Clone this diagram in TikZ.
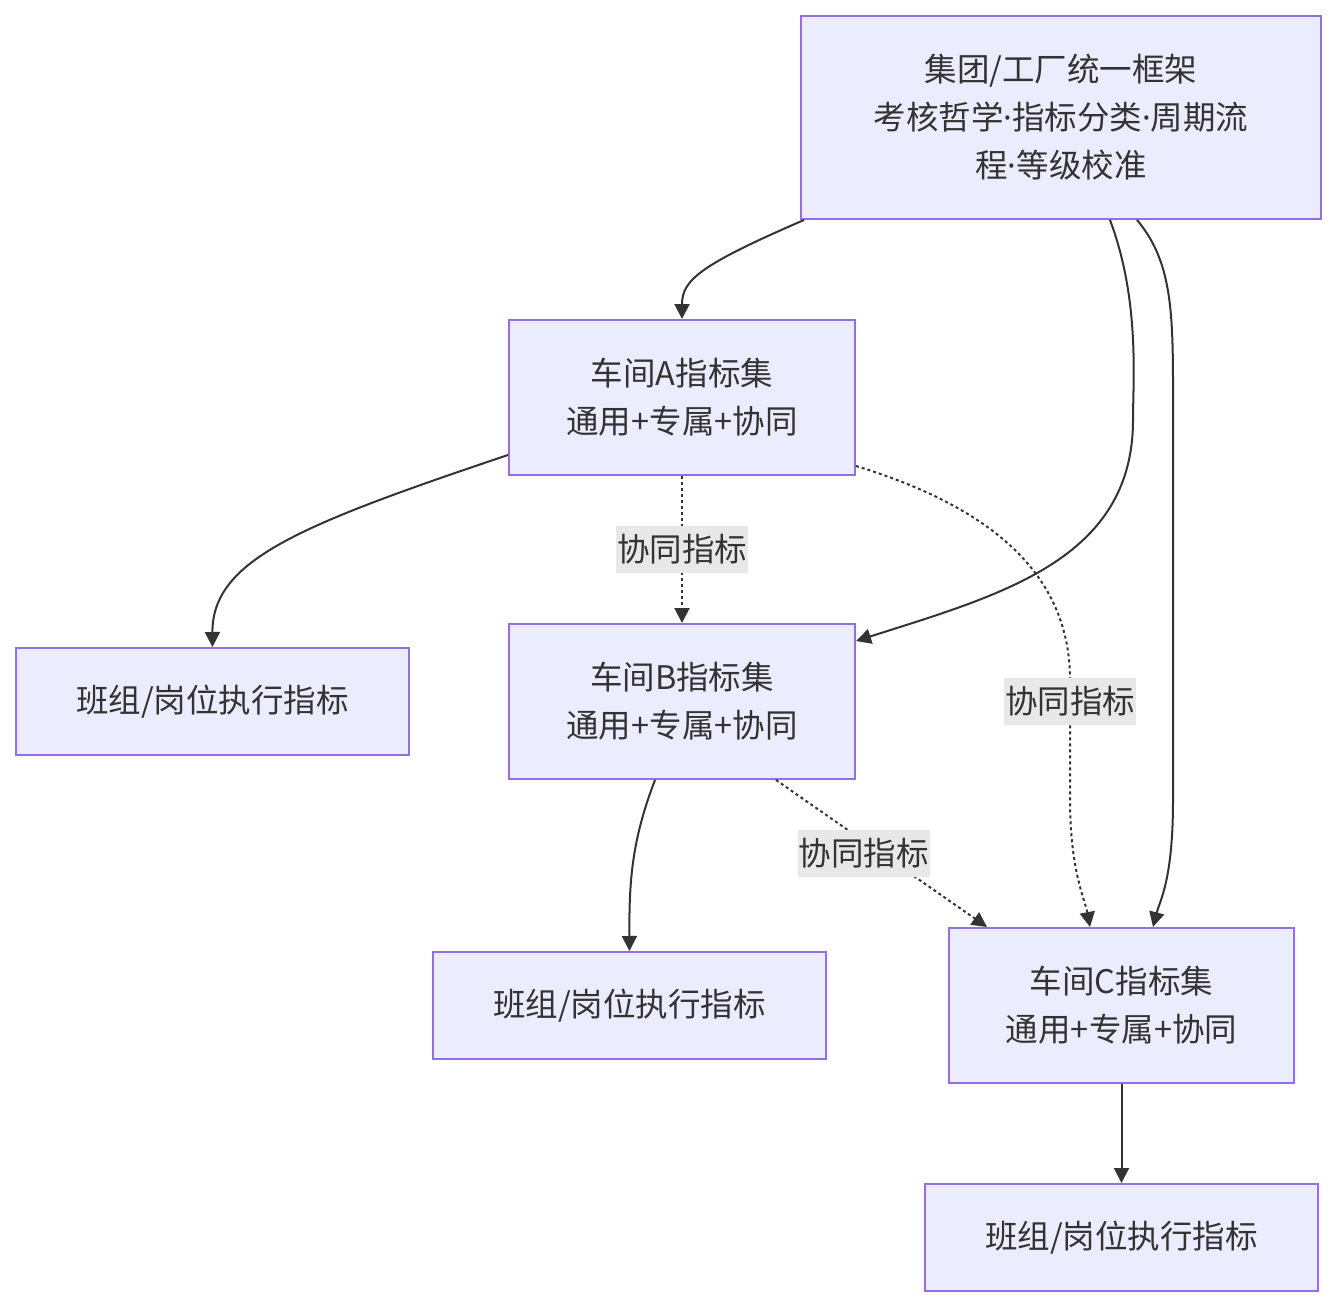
\documentclass[tikz,border=0pt]{standalone}
\usepackage{fontspec}
\setmainfont{Noto Sans CJK SC}
\newfontfamily\dotfont{Noto Sans}
\newcommand{\mdot}{{\dotfont ·}}
\usetikzlibrary{arrows.meta}

\definecolor{boxfill}{HTML}{ECECFF}
\definecolor{boxline}{HTML}{9370DB}
\definecolor{edgeline}{HTML}{333333}
\definecolor{lblfill}{HTML}{E8E8E8}

\tikzset{
	unit/.style={draw=boxline, fill=boxfill, line width=2pt, align=center, inner sep=0pt, text=edgeline},
	flow/.style={draw=edgeline, line width=2pt, -{Triangle[length=15pt, width=15pt]}},
	sync/.style={flow, dash pattern=on 3pt off 3pt},
	lbl/.style={fill=lblfill, inner xsep=1pt, inner ysep=0pt, minimum height=47pt, text=edgeline}
}

\begin{document}
\begin{tikzpicture}[x=1pt, y=-1pt, font=\fontsize{32.5}{48}\selectfont]
	\useasboundingbox (0,0) rectangle (1336,1308);
	\node[unit, minimum width=520pt, minimum height=203pt] (group) at (1061,117.5) {集团/工厂统一框架\\考核哲学\mdot 指标分类\mdot 周期流\\程\mdot 等级校准};
	\node[unit, minimum width=346pt, minimum height=155pt] (shopA) at (682,397.5) {车间A指标集\\通用+专属+协同};
	\node[unit, minimum width=346pt, minimum height=155pt] (shopB) at (682,701.5) {车间B指标集\\通用+专属+协同};
	\node[unit, minimum width=345pt, minimum height=155pt] (shopC) at (1121.5,1005.5) {车间C指标集\\通用+专属+协同};
	\node[unit, minimum width=393pt, minimum height=107pt] (teamA) at (212.5,701.5) {班组/岗位执行指标};
	\node[unit, minimum width=393pt, minimum height=107pt] (teamB) at (629.5,1005.5) {班组/岗位执行指标};
	\node[unit, minimum width=393pt, minimum height=107pt] (teamC) at (1121.5,1237.5) {班组/岗位执行指标};

	% solid links
	\draw[flow] ([xshift=4pt]group.south west) .. controls (700,265) and (682,280) .. (shopA.north);
	\draw[flow] ([xshift=49pt]group.south) .. controls (1140,300) and (1133,380) .. (1133,420)
		.. controls (1133,560) and (1000,595) .. ([yshift=-18pt]shopB.north east);
	\draw[flow] ([xshift=76pt]group.south) .. controls (1175,265) and (1173,320) .. (1173,420) -- (1173,800)
		.. controls (1173,880) and (1160,900) .. ([xshift=31.5pt]shopC.north);
	\draw[flow] ([yshift=-57.5pt]shopA.west) .. controls (300,525) and (212,560) .. (teamA.north);
	\draw[flow] ([xshift=-27pt]shopB.south) .. controls (632,840) and (629,880) .. (teamB.north);
	\draw[flow] (shopC.south) -- (teamC.north);

	% dashed links
	\draw[sync] (shopA.south) -- node[lbl] {协同指标} (shopB.north);
	\draw[sync] ([yshift=10pt]shopA.south east) .. controls (1000,510) and (1070,580) .. (1070,680)
		-- node[lbl, pos=0.18] {协同指标} (1070,800) .. controls (1070,870) and (1085,900) .. ([xshift=-31.5pt]shopC.north);
	\draw[sync] ([xshift=94pt]shopB.south) -- node[lbl, xshift=-18pt] {协同指标} ([xshift=39pt]shopC.north west);
\end{tikzpicture}
\end{document}
